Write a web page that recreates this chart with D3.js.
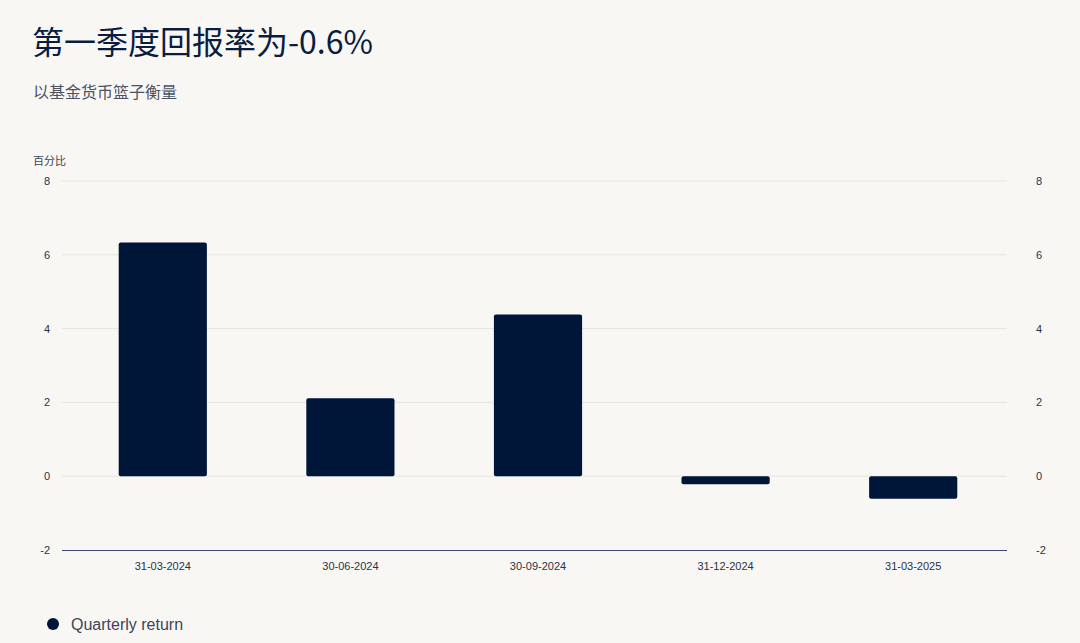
<!DOCTYPE html>
<html><head><meta charset="utf-8">
<script src="https://cdn.jsdelivr.net/npm/d3@7"></script>
<style>
html,body{margin:0;padding:0;background:#f8f7f4;}
.cjk{font-family:"Noto Sans CJK SC","Noto Sans",sans-serif;}
.lat{font-family:"Liberation Sans",Arial,sans-serif;}
</style></head>
<body>
<svg id="chart" width="1080" height="643"></svg>
<script>
const categories = ["31-03-2024","30-06-2024","30-09-2024","31-12-2024","31-03-2025"];
const returns = [6.33, 2.11, 4.38, -0.22, -0.61];
const yTicks = [-2, 0, 2, 4, 6, 8];
const title = "第一季度回报率为-0.6%";
const subtitle = "以基金货币篮子衡量";
const yLabel = "百分比";
const seriesName = "Quarterly return";

const svg = d3.select("#chart");
const navy = "#001639";
const fmt = d => String(d);

svg.append("text").attr("class", "cjk").attr("x", 32).attr("y", 54).attr("font-size", 32).attr("fill", "#0b1d3f").text(title);
svg.append("text").attr("class", "cjk").attr("x", 33).attr("y", 98).attr("font-size", 16).attr("fill", "#4b5363").text(subtitle);
svg.append("text").attr("class", "cjk").attr("x", 33).attr("y", 165).attr("font-size", 11).attr("fill", "#3d4556").text(yLabel);

const y = d3.scaleLinear().domain([-2, 8]).range([550, 181]);
const x = d3.scaleBand().domain(categories).range([69, 1007]).paddingInner(0.53).paddingOuter(0.265);

// gridlines
svg.append("g").selectAll("line").data(yTicks.filter(t => t !== -2)).join("line")
  .attr("x1", 62).attr("x2", 1007)
  .attr("y1", d => y(d)).attr("y2", d => y(d))
  .attr("stroke", "#e6e4e0").attr("stroke-width", 1);

// left axis
const left = svg.append("g").attr("transform", "translate(62,0)")
  .call(d3.axisLeft(y).tickValues(yTicks).tickSize(0).tickPadding(12).tickFormat(fmt));
left.select(".domain").remove();
left.selectAll("text").attr("class", "lat").attr("font-size", 11).attr("fill", "#2a3346");

// right axis
const right = svg.append("g").attr("transform", "translate(1007,0)")
  .call(d3.axisRight(y).tickValues(yTicks).tickSize(0).tickPadding(29).tickFormat(fmt));
right.select(".domain").remove();
right.selectAll("text").attr("class", "lat").attr("font-size", 11).attr("fill", "#2a3346");

// bars
svg.append("g").selectAll("rect").data(returns).join("rect")
  .attr("x", (d, i) => x(categories[i]))
  .attr("width", x.bandwidth())
  .attr("y", d => y(Math.max(0, d)))
  .attr("height", d => Math.abs(y(d) - y(0)))
  .attr("rx", 2)
  .attr("fill", navy);

// bottom axis
const bottom = svg.append("g").attr("transform", `translate(0,${y(-2)})`)
  .call(d3.axisBottom(x).tickSize(0).tickPadding(12));
bottom.select(".domain").attr("d", "M62,0.5H1007").attr("stroke", "#3b4a6b").attr("stroke-width", 1);
bottom.selectAll("text").attr("class", "lat").attr("font-size", 11).attr("fill", "#2a3346");

// legend
svg.append("circle").attr("cx", 53).attr("cy", 624).attr("r", 6).attr("fill", navy);
svg.append("text").attr("class", "lat").attr("x", 71).attr("y", 630).attr("font-size", 16).attr("fill", "#3d4556").text(seriesName);
</script>
</body></html>
